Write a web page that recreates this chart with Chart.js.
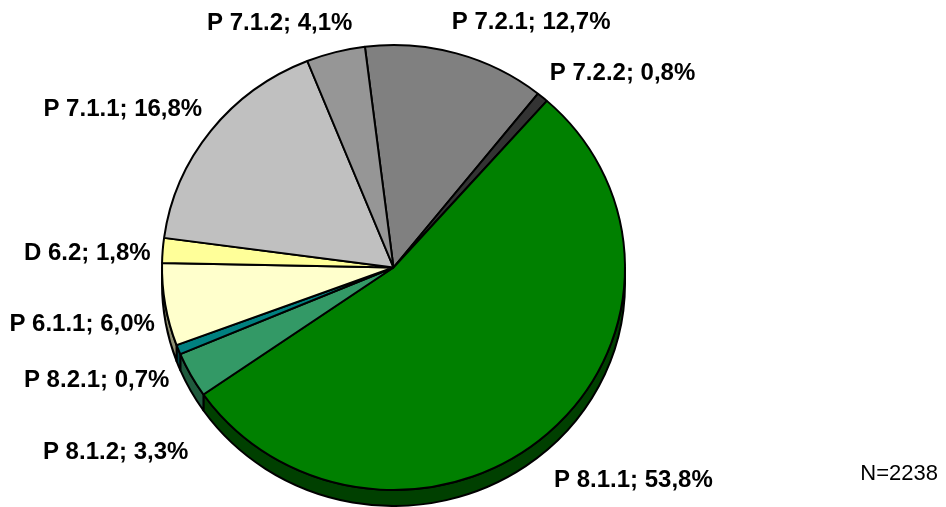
<!DOCTYPE html>
<html>
<head>
<meta charset="utf-8">
<script src="https://cdn.jsdelivr.net/npm/chart.js@4/dist/chart.umd.min.js"></script>
<style>
  html, body { margin: 0; padding: 0; background: #ffffff; }
  #wrap { width: 946px; height: 507px; position: relative; }
</style>
</head>
<body>
<div id="wrap"><canvas id="c" width="946" height="507"></canvas></div>
<script>
// ---- data ----
const categories = ['P 7.2.1', 'P 7.2.2', 'P 8.1.1', 'P 8.1.2', 'P 8.2.1', 'P 6.1.1', 'D 6.2', 'P 7.1.1', 'P 7.1.2'];
const shares = [12.7, 0.8, 53.8, 3.3, 0.7, 6.0, 1.8, 16.8, 4.1];
const sampleNote = 'N=2238';

// ---- styles ----
const sliceColors = ['#808080', '#333333', '#008000', '#339966', '#008080', '#FFFFCC', '#FFFF99', '#C0C0C0', '#969696'];
const depthColors = ['#404040', '#1a1a1a', '#004000', '#1f5a3d', '#004545', '#8f8f72', '#8f8f55', '#6a6a6a', '#555555'];
// label placement tweaks (angle shift in degrees, gap beyond rim in px)
const labelAngleShift = [13.5, 9.6, -6.8, -4.7, 0.9, -0.7, -1.7, -7.6, -10.5];
const labelGap = [50, 69, 89, 102, 86, 85, 75, 82, 38];

const DEPTH = 16;
const YSCALE = 222.5 / 231.5;

function fmt(v) { return v.toFixed(1).replace('.', ',') + '%'; }

const pie3d = {
  id: 'pie3d',
  beforeDatasetsDraw(chart) {
    const ctx = chart.ctx;
    const arcs = chart.getDatasetMeta(0).data;
    if (!arcs.length) return;
    const cx = arcs[0].x, cy = arcs[0].y;
    ctx.save();
    ctx.translate(cx, cy);
    ctx.scale(1, YSCALE);
    ctx.translate(-cx, -cy);
    const s = DEPTH / YSCALE;
    arcs.forEach((arc, i) => {
      const r = arc.outerRadius;
      const a1 = arc.startAngle, a2 = arc.endAngle;
      for (let n = -2; n <= 2; n++) {
        const lo = Math.max(a1, 2 * Math.PI * n);
        const hi = Math.min(a2, 2 * Math.PI * n + Math.PI);
        if (hi > lo) {
          ctx.beginPath();
          ctx.arc(cx, cy, r, lo, hi);
          ctx.lineTo(cx + r * Math.cos(hi), cy + s + r * Math.sin(hi));
          ctx.arc(cx, cy + s, r, hi, lo, true);
          ctx.closePath();
          ctx.fillStyle = depthColors[i];
          ctx.fill();
          ctx.lineWidth = 2;
          ctx.strokeStyle = '#000000';
          ctx.lineJoin = 'round';
          ctx.stroke();
        }
      }
    });
  },
  afterDatasetsDraw(chart) {
    chart.ctx.restore();
  },
  afterDraw(chart) {
    const ctx = chart.ctx;
    const arcs = chart.getDatasetMeta(0).data;
    ctx.save();
    ctx.fillStyle = '#000000';
    ctx.font = 'bold 24px "Liberation Sans", Arial, sans-serif';
    ctx.textAlign = 'center';
    ctx.textBaseline = 'middle';
    arcs.forEach((arc, i) => {
      const mid = (arc.startAngle + arc.endAngle) / 2 + labelAngleShift[i] * Math.PI / 180;
      const d = arc.outerRadius + labelGap[i];
      const x = arc.x + d * Math.cos(mid);
      const y = arc.y + d * Math.sin(mid);
      ctx.fillText(categories[i] + '; ' + fmt(shares[i]), x, y);
    });
    ctx.font = '22px "Liberation Sans", Arial, sans-serif';
    ctx.textAlign = 'right';
    ctx.fillText(sampleNote, 938, 474);
    ctx.restore();
  }
};

new Chart(document.getElementById('c'), {
  type: 'pie',
  data: {
    labels: categories,
    datasets: [{
      data: shares,
      backgroundColor: sliceColors,
      borderColor: '#000000',
      borderWidth: 2,
      clip: false
    }]
  },
  options: {
    responsive: false,
    animation: false,
    rotation: -7.1,
    layout: { padding: { left: 161, right: 320, top: 35, bottom: 7 } },
    plugins: {
      legend: { display: false },
      tooltip: { enabled: false },
      title: { display: false }
    }
  },
  plugins: [pie3d]
});
</script>
</body>
</html>
